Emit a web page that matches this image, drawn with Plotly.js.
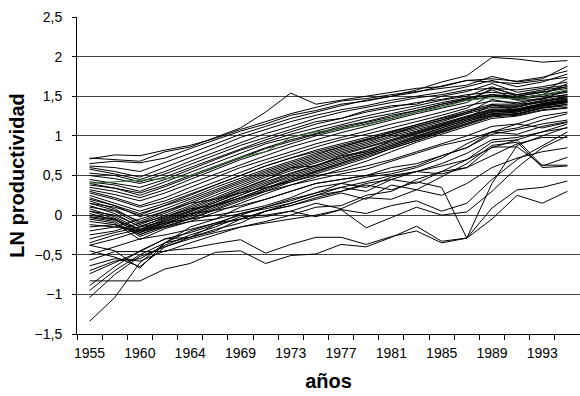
<!DOCTYPE html>
<html>
<head>
<meta charset="utf-8">
<script src="https://cdn.plot.ly/plotly-3.0.1.min.js"></script>
<style>html,body{margin:0;padding:0;background:#fff;}#chart{width:580px;height:396px;}</style>
</head>
<body>
<div id="chart"></div>
<script>
const years = ['1955','1957','1960','1962','1964','1967','1969','1971','1973','1975','1977','1979','1981','1983','1985','1987','1989','1991','1993','1995'];
const tickYears = ['1955','1960','1964','1969','1973','1977','1981','1985','1989','1993'];

// upper group
const u01 = [0.72,0.70,0.68,0.80,0.86,0.98,1.10,1.30,1.54,1.40,1.45,1.50,1.55,1.60,1.62,1.70,1.68,1.66,1.70,1.74];
const u02 = [0.62,0.60,0.55,0.66,0.78,0.90,1.02,1.12,1.22,1.30,1.38,1.45,1.50,1.58,1.68,1.76,1.99,1.97,1.93,1.95];
const u03 = [0.71,0.76,0.75,0.82,0.88,0.97,1.08,1.18,1.28,1.36,1.44,1.47,1.52,1.56,1.60,1.64,1.75,1.68,1.72,1.88];
const u04 = [0.65,0.68,0.66,0.72,0.84,0.95,1.06,1.15,1.26,1.32,1.40,1.44,1.50,1.55,1.63,1.70,1.72,1.69,1.74,1.82];
const u05 = [0.60,0.55,0.48,0.60,0.72,0.85,0.98,1.08,1.18,1.26,1.33,1.38,1.45,1.50,1.55,1.62,1.70,1.62,1.68,1.78];
const u06 = [0.58,0.52,0.45,0.55,0.68,0.80,0.92,1.03,1.12,1.22,1.30,1.36,1.42,1.48,1.52,1.58,1.60,1.58,1.62,1.68];
const u07 = [0.53,0.50,0.42,0.52,0.64,0.76,0.88,0.98,1.08,1.18,1.22,1.32,1.38,1.40,1.50,1.56,1.66,1.55,1.60,1.64];
const u08 = [0.50,0.46,0.40,0.48,0.60,0.72,0.84,0.95,1.05,1.15,1.22,1.30,1.36,1.42,1.46,1.52,1.55,1.52,1.56,1.72];
const green = [0.40,0.42,0.44,0.46,0.50,0.62,0.73,0.80,0.98,1.05,1.09,1.14,1.22,1.30,1.36,1.45,1.48,1.47,1.52,1.58];
const u10 = [0.45,0.40,0.35,0.45,0.58,0.70,0.82,0.92,1.02,1.10,1.18,1.25,1.32,1.38,1.45,1.50,1.62,1.50,1.55,1.60];
const u11 = [0.42,0.38,0.30,0.42,0.55,0.66,0.78,0.90,0.98,1.06,1.14,1.22,1.28,1.35,1.42,1.48,1.52,1.48,1.52,1.66];
const u12 = [0.38,0.34,0.28,0.38,0.50,0.62,0.74,0.85,0.95,1.03,1.12,1.18,1.26,1.32,1.40,1.46,1.58,1.46,1.50,1.55];
// middle group
const m01 = [0.35,0.30,0.22,0.32,0.45,0.58,0.70,0.80,0.90,1.00,1.08,1.15,1.22,1.30,1.38,1.45,1.50,1.47,1.52,1.56];
const m02 = [0.32,0.26,0.18,0.28,0.40,0.52,0.64,0.75,0.86,0.95,1.04,1.12,1.20,1.28,1.35,1.42,1.60,1.52,1.58,1.62];
const m03 = [0.30,0.22,0.12,0.22,0.35,0.47,0.60,0.70,0.80,0.90,0.98,1.06,1.15,1.22,1.30,1.38,1.44,1.42,1.48,1.52];
const m04 = [0.28,0.20,0.10,0.18,0.30,0.42,0.54,0.66,0.76,0.86,0.95,1.02,1.10,1.18,1.26,1.35,1.52,1.45,1.46,1.58];
const m05 = [0.25,0.15,0.05,0.15,0.26,0.38,0.50,0.62,0.72,0.82,0.90,0.98,1.06,1.14,1.22,1.30,1.38,1.37,1.44,1.48];
const m06 = [0.22,0.12,0.02,0.12,0.22,0.35,0.46,0.58,0.68,0.78,0.86,0.94,1.02,1.10,1.18,1.28,1.46,1.40,1.42,1.50];
const m07 = [0.40,0.34,0.25,0.36,0.48,0.60,0.72,0.84,0.93,1.02,1.10,1.17,1.24,1.32,1.40,1.47,1.52,1.50,1.55,1.62];
const m08 = [0.15,0.10,0.00,0.12,0.25,0.38,0.50,0.62,0.72,0.80,0.88,0.96,1.04,1.12,1.20,1.28,1.36,1.36,1.43,1.48];
// core group with 1960 dip
const c01 = [0.18,0.08,-0.10,0.02,0.15,0.28,0.40,0.52,0.62,0.72,0.82,0.90,1.00,1.08,1.16,1.25,1.34,1.34,1.40,1.45];
const c02 = [0.12,0.02,-0.15,-0.02,0.10,0.22,0.35,0.48,0.58,0.68,0.78,0.86,0.96,1.05,1.14,1.24,1.32,1.33,1.40,1.46];
const c03 = [0.08,-0.02,-0.18,-0.05,0.06,0.18,0.32,0.44,0.60,0.62,0.75,0.80,0.94,1.03,1.12,1.22,1.40,1.32,1.38,1.44];
const c04 = [0.05,-0.04,-0.20,-0.08,0.04,0.15,0.28,0.40,0.52,0.62,0.72,0.80,0.90,1.00,1.10,1.20,1.28,1.30,1.37,1.42];
const c05 = [0.02,-0.06,-0.22,-0.10,0.00,0.12,0.25,0.38,0.50,0.60,0.70,0.78,0.88,0.98,1.08,1.18,1.27,1.28,1.36,1.40];
const c06 = [0.00,-0.05,-0.25,-0.12,-0.02,0.10,0.22,0.35,0.46,0.56,0.66,0.76,0.86,0.96,1.06,1.16,1.26,1.27,1.35,1.38];
const c07 = [-0.03,-0.08,-0.27,-0.15,-0.05,0.06,0.18,0.30,0.42,0.52,0.62,0.72,0.84,0.94,1.04,1.14,1.24,1.26,1.33,1.36];
const c08 = [-0.05,-0.10,-0.31,-0.17,-0.08,0.03,0.15,0.27,0.38,0.48,0.58,0.68,0.80,0.92,1.02,1.12,1.22,1.25,1.32,1.35];
const c09 = [0.10,0.05,-0.12,0.00,0.12,0.25,0.38,0.50,0.60,0.70,0.80,0.88,0.98,1.06,1.15,1.24,1.33,1.32,1.40,1.44];
const c10 = [-0.08,-0.12,-0.24,-0.14,-0.04,0.08,0.20,0.32,0.44,0.54,0.64,0.74,0.84,0.94,1.05,1.15,1.25,1.28,1.35,1.40];
const c11 = [-0.12,-0.15,-0.20,-0.10,0.00,0.12,0.22,0.34,0.44,0.55,0.66,0.76,0.86,0.97,1.08,1.18,1.28,1.30,1.38,1.42];
const c12 = [0.15,0.06,-0.08,0.05,0.18,0.30,0.42,0.54,0.64,0.74,0.84,0.92,1.02,1.12,1.20,1.30,1.38,1.38,1.45,1.50];
const c13 = [0.05,0.00,-0.14,-0.04,0.08,0.20,0.33,0.45,0.56,0.66,0.76,0.85,0.94,1.04,1.13,1.22,1.30,1.31,1.39,1.43];
const c14 = [-0.15,-0.12,-0.22,-0.12,0.02,0.14,0.26,0.37,0.48,0.58,0.68,0.78,0.88,0.99,1.10,1.20,1.30,1.32,1.40,1.44];
const c15 = [0.20,0.12,-0.02,0.08,0.20,0.32,0.44,0.56,0.66,0.76,0.86,0.95,1.05,1.14,1.23,1.32,1.40,1.40,1.47,1.52];
const c16 = [-0.02,-0.06,-0.18,-0.06,0.05,0.16,0.30,0.42,0.53,0.63,0.73,0.82,0.92,1.02,1.12,1.22,1.31,1.34,1.41,1.47];
// lower-middle group
const l01 = [-0.20,-0.15,-0.05,0.05,0.15,0.20,0.28,0.35,0.42,0.50,0.55,0.62,0.70,0.80,0.90,1.00,1.12,1.15,1.25,1.30];
const l02 = [-0.25,-0.20,-0.10,-0.02,0.08,0.12,0.22,0.30,0.38,0.45,0.52,0.58,0.68,0.78,0.88,0.95,1.05,1.10,1.20,1.28];
const l03 = [-0.30,-0.22,-0.15,-0.08,0.02,0.06,0.12,0.20,0.30,0.40,0.45,0.50,0.55,0.62,0.75,0.85,1.02,1.08,1.15,1.20];
const l04 = [-0.35,-0.25,-0.18,-0.10,-0.05,0.00,0.05,0.12,0.22,0.35,0.40,0.48,0.52,0.60,0.72,0.90,1.05,1.02,1.12,1.18];
const l05 = [-0.38,-0.30,-0.20,-0.15,-0.08,-0.05,0.02,0.08,0.15,0.25,0.35,0.42,0.50,0.55,0.65,0.78,0.95,0.98,1.05,1.10];
// low-start group
const w01 = [-1.34,-1.04,-0.60,-0.35,-0.28,-0.20,-0.05,0.05,0.15,0.25,0.30,0.40,0.45,0.55,0.62,0.70,0.85,0.95,1.05,1.15];
const w02 = [-0.83,-0.83,-0.83,-0.68,-0.61,-0.47,-0.45,-0.61,-0.51,-0.49,-0.37,-0.40,-0.28,-0.14,-0.33,-0.29,0.09,0.32,0.35,0.43];
const w03 = [-0.64,-0.55,-0.58,-0.45,-0.42,-0.36,-0.31,-0.48,-0.37,-0.28,-0.28,-0.37,-0.27,-0.20,-0.35,-0.29,-0.05,0.25,0.15,0.30];
const w04 = [-1.04,-0.75,-0.52,-0.40,-0.30,-0.22,-0.15,-0.10,-0.05,0.00,0.07,-0.16,-0.03,0.10,0.00,0.04,0.30,0.60,0.85,1.00];
const w05 = [-0.95,-0.70,-0.50,-0.35,-0.20,-0.10,0.00,0.10,0.20,0.28,0.35,0.30,0.45,0.40,0.55,0.70,0.92,0.95,0.62,0.73];
const w06 = [-0.89,-0.65,-0.45,-0.30,-0.22,-0.12,-0.05,0.05,0.12,0.20,0.28,0.20,0.38,0.32,0.48,0.65,0.88,0.92,0.60,0.62];
const w07 = [-0.74,-0.60,-0.46,-0.46,-0.35,-0.25,-0.15,-0.08,0.00,0.10,0.12,0.25,0.30,0.45,0.55,0.60,0.86,0.86,0.63,0.63];
const w08 = [-0.57,-0.46,-0.46,-0.30,-0.28,-0.18,-0.10,0.05,0.12,0.22,0.30,0.38,0.32,0.42,0.35,-0.29,0.40,0.88,1.00,1.11];
const w09 = [-0.45,-0.53,-0.65,-0.40,-0.28,-0.12,0.02,0.10,0.18,0.28,0.40,0.35,0.48,0.55,0.52,0.60,0.75,0.90,0.98,0.98];
const w10 = [-0.38,-0.45,-0.67,-0.35,-0.15,-0.05,0.10,0.20,0.30,0.40,0.45,0.50,0.60,0.65,0.75,0.85,1.05,1.15,1.10,1.17];
const w11 = [-0.70,-0.58,-0.55,-0.38,-0.25,-0.15,-0.02,0.00,0.05,0.15,0.08,0.22,0.20,0.32,0.25,0.40,0.60,0.72,0.80,0.85];
const w12 = [-0.50,-0.40,-0.30,-0.25,-0.18,-0.10,-0.05,-0.02,0.05,-0.02,0.07,0.02,0.12,0.18,0.05,0.15,0.45,0.70,0.88,1.05];

const blackSeries = [u01,u02,u03,u04,u05,u06,u07,u08,u10,u11,u12,
  m01,m02,m03,m04,m05,m06,m07,m08,
  c01,c02,c03,c04,c05,c06,c07,c08,c09,c10,c11,c12,c13,c14,c15,c16,
  l01,l02,l03,l04,l05,
  w01,w02,w03,w04,w05,w06,w07,w08,w09,w10,w11,w12];

const traces = blackSeries.map(s => ({
  x: years, y: s, type: 'scatter', mode: 'lines',
  line: {color: '#000000', width: 1}, hoverinfo: 'skip', showlegend: false
}));
traces.push({x: years, y: green, type: 'scatter', mode: 'lines',
  line: {color: '#2f6b2f', width: 1}, hoverinfo: 'skip', showlegend: false});

const tickText = years.map(y => tickYears.indexOf(y) >= 0 ? y : '');
const fam = 'Liberation Sans, Arial, sans-serif';

const layout = {
  width: 580, height: 396,
  margin: {l: 77, r: 0, t: 17, b: 62, pad: 0},
  paper_bgcolor: '#ffffff', plot_bgcolor: '#ffffff',
  separators: ', ',
  font: {family: fam, size: 14, color: '#000'},
  xaxis: {
    type: 'category', range: [-0.5, 19.5],
    tickmode: 'array', tickvals: years, ticktext: tickText, tickangle: 0,
    tickson: 'boundaries', ticks: 'outside', ticklen: 5, tickcolor: '#000',
    ticklabelstandoff: 6,
    showline: true, linecolor: '#000', linewidth: 1, showgrid: false,
    tickfont: {size: 14, family: fam}, fixedrange: true,
    title: {text: 'años', font: {size: 20, family: fam, weight: 'bold'}, standoff: 14}
  },
  yaxis: {
    range: [-1.5, 2.5], dtick: 0.5, tick0: 0,
    ticks: 'outside', ticklen: 4, tickcolor: '#000',
    ticklabelstandoff: 7,
    showline: true, linecolor: '#000', linewidth: 1,
    showgrid: true, gridcolor: '#404040', gridwidth: 1,
    zeroline: false, tickfont: {size: 14, family: fam}, fixedrange: true,
    title: {text: 'LN productividad', font: {size: 20, family: fam, weight: 'bold'}, standoff: 4}
  }
};

Plotly.newPlot('chart', traces, layout, {staticPlot: true, displayModeBar: false});
</script>
</body>
</html>
